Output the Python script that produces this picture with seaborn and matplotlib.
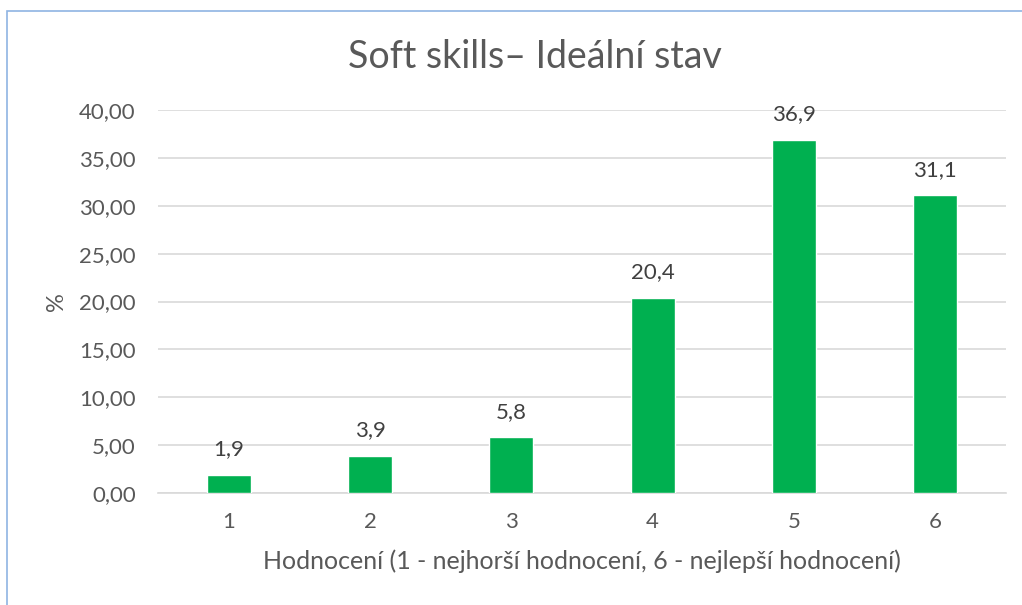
import matplotlib
matplotlib.use("Agg")
import matplotlib.pyplot as plt
import seaborn as sns
import pandas as pd
from matplotlib.patches import Rectangle

categories = ["1", "2", "3", "4", "5", "6"]
values = [1.9, 3.9, 5.8, 20.4, 36.9, 31.1]
yticks = [0, 5, 10, 15, 20, 25, 30, 35, 40]
title = "Soft skills\u2013 Ideální stav"
xlabel = "Hodnocení (1 - nejhorší hodnocení, 6 - nejlepší hodnocení)"
ylabel = "%"

sns.set_theme(style="white")
plt.rcParams['font.family'] = ['Lato', 'DejaVu Sans']

df = pd.DataFrame({"cat": categories, "val": values})

fig = plt.figure(figsize=(10.22, 6.05), dpi=100)
ax = fig.add_axes([158/1022, 1-493/605, (1006-158)/1022, (493-110)/605])

sns.barplot(data=df, x="cat", y="val", color="#00B050", width=0.31, ax=ax,
            saturation=1, zorder=3)

ax.set_xlim(-0.5, 5.5)
ax.set_ylim(0, 40)
ax.set_yticks(yticks)
ax.set_yticklabels([f"{t:.2f}".replace(".", ",") for t in yticks])
ax.yaxis.grid(True, color="#D9D9D9", linewidth=1.2, zorder=0)
ax.set_axisbelow(True)
for s in ["top", "right", "left"]:
    ax.spines[s].set_visible(False)
ax.spines["bottom"].set_color("#D9D9D9")
ax.spines["bottom"].set_linewidth(1.2)
ax.tick_params(axis="both", length=0, labelsize=16, labelcolor="#595959")
ax.tick_params(axis="y", pad=16)
ax.tick_params(axis="x", pad=14)

for i, v in enumerate(values):
    ax.annotate(f"{v:.1f}".replace(".", ","), (i, v), xytext=(0, 11),
                textcoords="offset points", ha="center", va="bottom",
                fontsize=16, color="#404040")

ax.set_xlabel(xlabel, fontsize=18, color="#595959", labelpad=12)
ax.set_ylabel(ylabel, fontsize=17, color="#595959")
ax.yaxis.set_label_coords((67-158)/(1006-158), 0.5)

fig.text(535/1022, 1-57/605, title, ha="center", va="center",
         fontsize=27, color="#595959")

fig.patches.append(Rectangle((6.5/1022, -0.1), 1.2, 1 - 10.5/605 + 0.1,
                             transform=fig.transFigure, fill=False,
                             edgecolor="#8FB4E3", linewidth=1.2))

fig.savefig("out.png", dpi=100)
